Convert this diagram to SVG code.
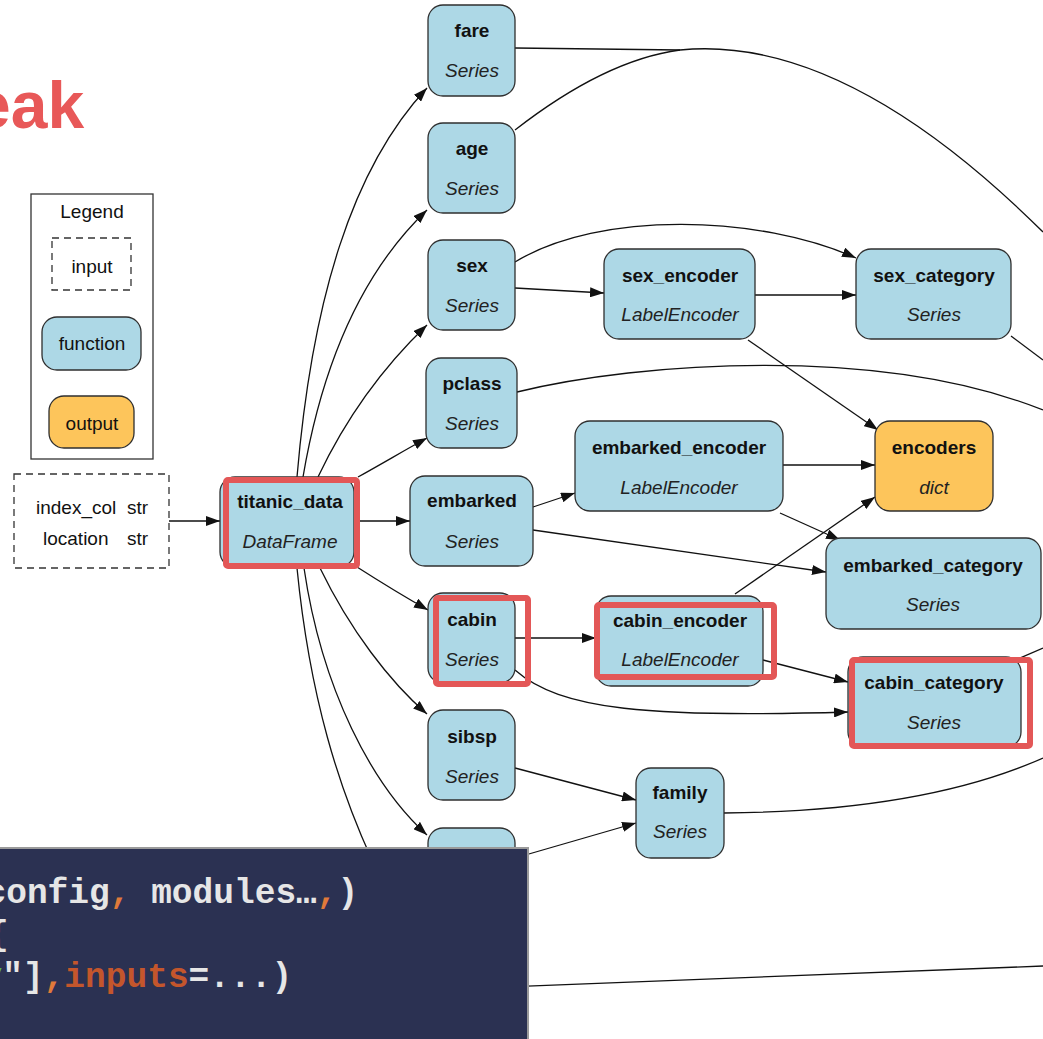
<svg xmlns="http://www.w3.org/2000/svg" width="1043" height="1039" viewBox="0 0 1043 1039">
  <style>
    .n rect { fill: #add8e6; stroke: #2f2f2f; stroke-width: 1.3; }
    .n.out rect { fill: #fdc55b; }
    .lbl { font-family: "Liberation Sans", Arial, Helvetica, sans-serif; font-size: 19px; font-weight: bold; text-anchor: middle; fill: #111; }
    .typ { font-family: "Liberation Sans", Arial, Helvetica, sans-serif; font-size: 19px; font-style: italic; text-anchor: middle; fill: #222; }
    .reg { font-family: "Liberation Sans", Arial, Helvetica, sans-serif; font-size: 19px; fill: #111; }
    .dash { fill: #fff; stroke: #333; stroke-width: 1.3; stroke-dasharray: 7 5; }
    .e path { fill: none; stroke: #111; stroke-width: 1.3; }
    .e path.a { marker-end: url(#ah); }
    .hl { fill: none; stroke: #e35757; stroke-width: 6; }
    .code { font-family: "Liberation Mono", "Courier New", monospace; font-size: 34.5px; font-weight: bold; fill: #e6e6e6; }
  </style>
  <defs>
    <marker id="ah" viewBox="0 0 14 10" refX="14" refY="5" markerWidth="14" markerHeight="10" markerUnits="userSpaceOnUse" orient="auto">
      <path d="M0,0 L14,5 L0,10 z" fill="#111"/>
    </marker>
  </defs>

  <rect width="1043" height="1039" fill="#fff"/>

  <!-- heading, clipped by the left border -->
  <text x="-26" y="128" font-family="'Liberation Sans', Arial, sans-serif" font-size="66" font-weight="bold" fill="#e85858">eak</text>

  <!-- legend -->
  <g id="legend">
    <rect x="31" y="194" width="122" height="265" fill="#fff" stroke="#333" stroke-width="1.3"/>
    <text class="reg" x="92" y="218" text-anchor="middle">Legend</text>
    <rect class="dash" x="52" y="238" width="79" height="52"/>
    <text class="reg" x="92" y="273" text-anchor="middle">input</text>
    <g class="n"><rect x="42" y="317" width="99" height="53" rx="15"/></g>
    <text class="reg" x="92" y="350" text-anchor="middle">function</text>
    <g class="n out"><rect x="49" y="396" width="85" height="52" rx="15"/></g>
    <text class="reg" x="92" y="430" text-anchor="middle">output</text>
  </g>

  <!-- connectors -->
  <g id="edges" class="e">
    <path class="a" d="M169,521 L220,521"/>
    <path class="a" d="M297,477 C312,300 352,168 427,88"/>
    <path class="a" d="M303,477 C322,365 362,272 427,210"/>
    <path class="a" d="M318,477 C345,420 382,368 427,325"/>
    <path class="a" d="M358,477 C385,462 405,450 427,438"/>
    <path class="a" d="M355,521 L410,521"/>
    <path class="a" d="M357,567 C382,583 405,597 428,610"/>
    <path class="a" d="M320,568 C350,630 390,682 427,714"/>
    <path class="a" d="M304,568 C322,690 372,785 427,835"/>
    <path d="M297,568 C310,700 340,790 372,860"/>
    <path d="M515,48 L680,50"/>
    <path d="M515,130 C560,95 620,58 680,50"/>
    <path d="M680,50 C780,40 900,90 1043,232"/>
    <path class="a" d="M515,288 L604,293"/>
    <path class="a" d="M515,262 C600,210 760,215 856,258"/>
    <path class="a" d="M755,295 L856,295"/>
    <path class="a" d="M748,340 L878,430"/>
    <path d="M1011,336 L1043,360"/>
    <path d="M517,392 C640,362 880,345 1043,410"/>
    <path class="a" d="M533,507 L575,493"/>
    <path class="a" d="M533,530 L826,572"/>
    <path class="a" d="M783,465 L875,465"/>
    <path class="a" d="M780,513 L840,540"/>
    <path class="a" d="M735,594 L875,497"/>
    <path class="a" d="M515,638 L596,638"/>
    <path class="a" d="M763,660 L848,682"/>
    <path class="a" d="M515,670 C560,710 650,718 848,712"/>
    <path class="a" d="M515,768 L636,800"/>
    <path class="a" d="M515,858 L636,823"/>
    <path d="M724,813 C850,812 960,795 1043,758"/>
    <path d="M1013,661 L1043,648"/>
    <path d="M300,995 L1043,966"/>
  </g>

  <!-- parameters -->
  <g id="inputs">
    <rect class="dash" x="14" y="474" width="155" height="94"/>
    <text class="reg" x="36" y="514">index_col</text>
    <text class="reg" x="127" y="514">str</text>
    <text class="reg" x="43" y="545">location</text>
    <text class="reg" x="127" y="545">str</text>
  </g>

  <!-- nodes -->
  <g id="titanic_data" class="n">
    <rect x="220" y="477" width="134" height="90" rx="15"/>
    <text class="lbl" x="290" y="508">titanic_data</text>
    <text class="typ" x="290" y="548">DataFrame</text>
  </g>
  <g id="fare" class="n">
    <rect x="428" y="5" width="87" height="91" rx="15"/>
    <text class="lbl" x="472" y="37">fare</text>
    <text class="typ" x="472" y="77">Series</text>
  </g>
  <g id="age" class="n">
    <rect x="428" y="123" width="87" height="90" rx="15"/>
    <text class="lbl" x="472" y="155">age</text>
    <text class="typ" x="472" y="195">Series</text>
  </g>
  <g id="sex" class="n">
    <rect x="428" y="240" width="87" height="90" rx="15"/>
    <text class="lbl" x="472" y="272">sex</text>
    <text class="typ" x="472" y="312">Series</text>
  </g>
  <g id="pclass" class="n">
    <rect x="426" y="358" width="91" height="90" rx="15"/>
    <text class="lbl" x="472" y="390">pclass</text>
    <text class="typ" x="472" y="430">Series</text>
  </g>
  <g id="embarked" class="n">
    <rect x="410" y="476" width="123" height="90" rx="15"/>
    <text class="lbl" x="472" y="507">embarked</text>
    <text class="typ" x="472" y="548">Series</text>
  </g>
  <g id="cabin" class="n">
    <rect x="428" y="593" width="87" height="90" rx="15"/>
    <text class="lbl" x="472" y="626">cabin</text>
    <text class="typ" x="472" y="666">Series</text>
  </g>
  <g id="sibsp" class="n">
    <rect x="428" y="710" width="87" height="90" rx="15"/>
    <text class="lbl" x="472" y="743">sibsp</text>
    <text class="typ" x="472" y="783">Series</text>
  </g>
  <g id="parch" class="n">
    <rect x="428" y="828" width="87" height="90" rx="15"/>
  </g>
  <g id="sex_encoder" class="n">
    <rect x="604" y="249" width="151" height="90" rx="15"/>
    <text class="lbl" x="680" y="282">sex_encoder</text>
    <text class="typ" x="680" y="321">LabelEncoder</text>
  </g>
  <g id="sex_category" class="n">
    <rect x="856" y="249" width="155" height="90" rx="15"/>
    <text class="lbl" x="934" y="282">sex_category</text>
    <text class="typ" x="934" y="321">Series</text>
  </g>
  <g id="embarked_encoder" class="n">
    <rect x="575" y="421" width="208" height="90" rx="15"/>
    <text class="lbl" x="679" y="454">embarked_encoder</text>
    <text class="typ" x="679" y="494">LabelEncoder</text>
  </g>
  <g id="encoders" class="n out">
    <rect x="875" y="421" width="118" height="90" rx="15"/>
    <text class="lbl" x="934" y="454">encoders</text>
    <text class="typ" x="934" y="494">dict</text>
  </g>
  <g id="embarked_category" class="n">
    <rect x="826" y="538" width="215" height="91" rx="15"/>
    <text class="lbl" x="933" y="572">embarked_category</text>
    <text class="typ" x="933" y="611">Series</text>
  </g>
  <g id="cabin_encoder" class="n">
    <rect x="596" y="596" width="167" height="90" rx="15"/>
    <text class="lbl" x="680" y="627">cabin_encoder</text>
    <text class="typ" x="680" y="666">LabelEncoder</text>
  </g>
  <g id="cabin_category" class="n">
    <rect x="848" y="657" width="173" height="90" rx="15"/>
    <text class="lbl" x="934" y="689">cabin_category</text>
    <text class="typ" x="934" y="729">Series</text>
  </g>
  <g id="family" class="n">
    <rect x="636" y="768" width="88" height="90" rx="15"/>
    <text class="lbl" x="680" y="799">family</text>
    <text class="typ" x="680" y="838">Series</text>
  </g>

  <!-- highlight frames -->
  <g id="highlights">
    <rect class="hl" x="226" y="480" width="131" height="86" rx="2"/>
    <rect class="hl" x="436" y="598" width="92" height="86" rx="2"/>
    <rect class="hl" x="597" y="605" width="177" height="72" rx="2"/>
    <rect class="hl" x="852" y="660" width="178" height="86" rx="2"/>
  </g>

  <!-- code panel -->
  <g id="code-panel">
    <rect x="-5" y="848" width="533" height="200" fill="#2b3152" stroke="#9a9a9a" stroke-width="2"/>
    <text class="code" x="-14.5" y="903">config<tspan fill="#e07a3a">,</tspan> modules…<tspan fill="#e07a3a">,</tspan>)</text>
    <text class="code" x="-12" y="945">{</text>
    <text class="code" x="-18.5" y="987"><tspan fill="#5db34a">y</tspan>"]<tspan fill="#e07a3a">,</tspan><tspan fill="#c4562c">inputs</tspan>=...)</text>
  </g>
</svg>
